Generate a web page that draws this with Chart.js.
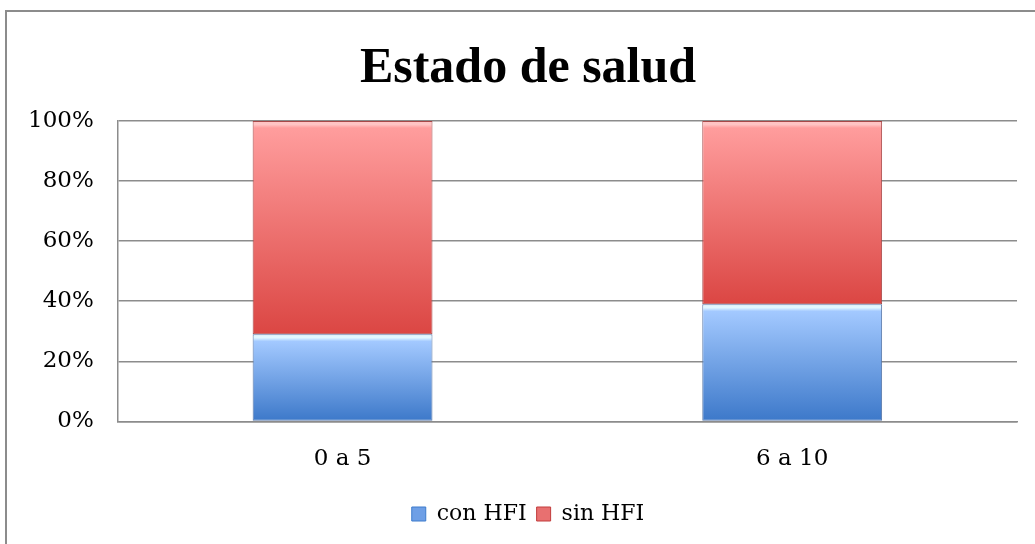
<!DOCTYPE html>
<html>
<head>
<meta charset="utf-8">
<script src="https://cdn.jsdelivr.net/npm/chart.js@4"></script>
<style>
  html, body { margin: 0; padding: 0; background: #fff; }
  #wrap { width: 1035px; height: 544px; }
</style>
</head>
<body>
<div id="wrap"><canvas id="myChart" width="1035" height="544"></canvas></div>
<script>
// datos
const categorias = ['0 a 5', '6 a 10'];
const conHFI = [29, 39];
const sinHFI = [71, 61];
const ticksY = [0, 20, 40, 60, 80, 100];

const fuenteTitulo = "'Liberation Serif', 'DejaVu Serif', serif";
const fuente = "'DejaVu Serif', 'Liberation Serif', serif";

// degradado vertical para cada barra segun su tramo en el eje y, con un brillo arriba
function degradado(context, brillo, arriba, abajo) {
  const chart = context.chart;
  const y = chart.scales.y;
  if (!y || context.dataIndex === undefined) return arriba;
  const i = context.dataIndex;
  let desde, hasta;
  if (context.datasetIndex === 0) { desde = 0; hasta = conHFI[i]; }
  else { desde = conHFI[i]; hasta = conHFI[i] + sinHFI[i]; }
  const yTop = y.getPixelForValue(hasta);
  const yBot = y.getPixelForValue(desde);
  if (!isFinite(yTop) || !isFinite(yBot) || yBot <= yTop) return arriba;
  const f = Math.min(0.3, 7 / (yBot - yTop));
  const g = chart.ctx.createLinearGradient(0, yTop, 0, yBot);
  g.addColorStop(0, brillo);
  g.addColorStop(f * 0.5, brillo);
  g.addColorStop(f, arriba);
  g.addColorStop(1, abajo);
  return g;
}

const borde = {
  id: 'borde',
  beforeDraw(chart) {
    const c = chart.ctx;
    c.save();
    c.fillStyle = '#fff';
    c.fillRect(0, 0, chart.width, chart.height);
    c.strokeStyle = '#8c8c8c';
    c.lineWidth = 2;
    c.strokeRect(6, 11, chart.width + 10, chart.height + 10);
    c.restore();
  }
};

// el titulo y la leyenda del original estan centrados un poco mas a la derecha
const centrar = {
  id: 'centrar',
  afterLayout(chart) {
    if (chart.titleBlock) chart.titleBlock.left += 35;
    if (chart.legend) chart.legend.left += 35;
  }
};

new Chart(document.getElementById('myChart').getContext('2d'), {
  type: 'bar',
  data: {
    labels: categorias,
    datasets: [{
      label: 'con HFI',
      data: conHFI,
      backgroundColor: ctx => degradado(ctx, '#e2f7ff', '#a3c9ff', '#3c78c9'),
      borderColor: '#5878a8',
      borderWidth: 1,
      borderSkipped: false
    }, {
      label: 'sin HFI',
      data: sinHFI,
      backgroundColor: ctx => degradado(ctx, '#ffc4c4', '#ff9d9d', '#db4643'),
      borderColor: '#a84848',
      borderWidth: 1,
      borderSkipped: false
    }]
  },
  options: {
    responsive: false,
    animation: false,
    layout: { padding: { left: 4, right: 18, top: 12, bottom: 9 } },
    datasets: { bar: { barPercentage: 0.40, categoryPercentage: 1 } },
    plugins: {
      title: {
        display: true,
        text: 'Estado de salud',
        color: '#000',
        font: { family: fuenteTitulo, size: 50, weight: 'bold' },
        padding: { top: 27, bottom: 22 }
      },
      legend: {
        display: true,
        position: 'bottom',
        labels: {
          color: '#000',
          font: { family: fuente, size: 22 },
          boxWidth: 14,
          boxHeight: 14,
          padding: 10,
          generateLabels(chart) {
            const cols = [['#6e9fe6', '#3d7bcc'], ['#e87070', '#c23d3d']];
            return chart.data.datasets.map((d, i) => ({
              text: d.label,
              fillStyle: cols[i][0],
              strokeStyle: cols[i][1],
              lineWidth: 1,
              datasetIndex: i,
              fontColor: '#000'
            }));
          }
        }
      },
      tooltip: { enabled: false }
    },
    scales: {
      x: {
        stacked: true,
        grid: { display: false, drawTicks: false },
        border: { color: '#8c8c8c', width: 1.5 },
        ticks: { color: '#000', font: { family: fuente, size: 23 }, padding: 24 },
        afterFit(axis) { axis.height -= 4; }
      },
      y: {
        stacked: true,
        min: 0,
        max: 100,
        afterBuildTicks(axis) { axis.ticks = ticksY.map(v => ({ value: v })); },
        grid: { color: '#8c8c8c', lineWidth: 1.5, drawTicks: false },
        border: { color: '#8c8c8c', width: 1.5 },
        ticks: {
          color: '#000',
          font: { family: fuente, size: 23 },
          padding: 24,
          callback: v => v + '%'
        }
      }
    }
  },
  plugins: [borde, centrar]
});
</script>
</body>
</html>
